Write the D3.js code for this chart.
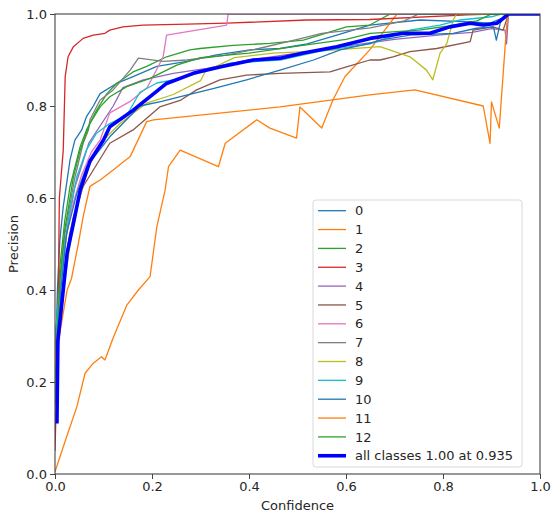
<!DOCTYPE html>
<html>
<head>
<meta charset="utf-8">
<script src="https://cdn.jsdelivr.net/npm/d3@7/dist/d3.min.js"></script>
<style>
  html, body { margin: 0; padding: 0; background: #fff; }
  svg { display: block; }
  text { font-family: "DejaVu Sans", sans-serif; fill: #262626; }
</style>
</head>
<body>
<svg id="chart" width="553" height="517"></svg>
<script>
// ---------- DATA (confidence, precision) ----------
const classNames = ["0","1","2","3","4","5","6","7","8","9","10","11","12"];
const allLabel = "all classes 1.00 at 0.935";
const xTicks = [0.0, 0.2, 0.4, 0.6, 0.8, 1.0];
const yTicks = [0.0, 0.2, 0.4, 0.6, 0.8, 1.0];

const class0 = [[0,0.2],[0.005,0.4],[0.01,0.509],[0.017,0.581],[0.031,0.683],[0.041,0.726],[0.055,0.748],[0.065,0.777],[0.079,0.8],[0.093,0.827],[0.127,0.849],[0.161,0.864],[0.21,0.886],[0.272,0.897],[0.333,0.911],[0.402,0.922],[0.464,0.925],[0.52,0.935],[0.581,0.954],[0.649,0.976],[0.753,0.987],[0.856,0.983],[0.897,0.98],[0.92,0.99],[0.93,1.0],[1,1]];
const class1 = [[0,0.005],[0.024,0.081],[0.045,0.146],[0.062,0.219],[0.079,0.241],[0.096,0.255],[0.103,0.248],[0.12,0.296],[0.148,0.367],[0.172,0.4],[0.196,0.429],[0.21,0.538],[0.227,0.617],[0.234,0.668],[0.258,0.704],[0.337,0.668],[0.351,0.719],[0.416,0.77],[0.443,0.752],[0.498,0.73],[0.505,0.798],[0.55,0.752],[0.573,0.813],[0.598,0.864],[0.649,0.922],[0.705,1.0],[1,1]];
const class2 = [[0,0.25],[0.01,0.45],[0.02,0.55],[0.031,0.625],[0.052,0.712],[0.065,0.748],[0.086,0.791],[0.107,0.827],[0.127,0.849],[0.161,0.874],[0.189,0.886],[0.23,0.907],[0.278,0.922],[0.299,0.925],[0.367,0.932],[0.443,0.936],[0.512,0.943],[0.601,0.972],[0.649,0.976],[0.691,1.0],[1,1]];
const class3 = [[0,0.05],[0.006,0.3],[0.009,0.6],[0.017,0.704],[0.021,0.864],[0.027,0.907],[0.038,0.929],[0.058,0.947],[0.079,0.954],[0.103,0.958],[0.113,0.965],[0.14,0.972],[0.181,0.976],[0.272,0.978],[0.354,0.98],[0.519,0.987],[0.649,0.988],[0.85,0.998],[0.9,1.0],[1,1]];
const class4 = [[0,0.22],[0.01,0.42],[0.02,0.5],[0.04,0.62],[0.07,0.72],[0.12,0.8],[0.14,0.84],[0.182,0.857],[0.244,0.871],[0.313,0.882],[0.4,0.9],[0.5,0.915],[0.6,0.93],[0.7,0.945],[0.8,0.955],[0.86,0.96],[0.9,0.968],[0.928,0.965],[0.931,0.935],[0.935,1.0],[1,1]];
const class5 = [[0,0.15],[0.01,0.35],[0.02,0.45],[0.03,0.52],[0.038,0.559],[0.058,0.625],[0.113,0.719],[0.161,0.748],[0.216,0.798],[0.258,0.812],[0.292,0.835],[0.34,0.857],[0.395,0.867],[0.464,0.871],[0.567,0.874],[0.601,0.885],[0.649,0.9],[0.67,0.9],[0.697,0.907],[0.732,0.918],[0.787,0.925],[0.856,0.94],[0.862,0.965],[0.903,0.972],[0.924,0.965],[0.935,1.0],[1,1]];
const class6 = [[0,0.22],[0.01,0.4],[0.02,0.5],[0.035,0.58],[0.055,0.65],[0.075,0.7],[0.093,0.726],[0.113,0.785],[0.155,0.81],[0.19,0.84],[0.21,0.88],[0.223,0.907],[0.23,0.954],[0.354,0.976],[0.357,1.0],[1,1]];
const class7 = [[0,0.25],[0.01,0.42],[0.02,0.52],[0.04,0.64],[0.058,0.719],[0.069,0.748],[0.072,0.77],[0.093,0.813],[0.12,0.835],[0.155,0.878],[0.172,0.904],[0.223,0.897],[0.272,0.9],[0.35,0.91],[0.42,0.925],[0.5,0.945],[0.55,0.958],[0.65,0.97],[0.72,0.985],[0.75,1.0],[1,1]];
const class8 = [[0,0.2],[0.02,0.42],[0.04,0.56],[0.07,0.67],[0.1,0.726],[0.134,0.762],[0.161,0.784],[0.189,0.806],[0.244,0.825],[0.3,0.855],[0.31,0.875],[0.37,0.905],[0.45,0.915],[0.55,0.92],[0.67,0.929],[0.732,0.907],[0.766,0.878],[0.779,0.857],[0.794,0.915],[0.808,0.936],[0.821,0.987],[0.828,1.0],[1,1]];
const class9 = [[0,0.3],[0.015,0.45],[0.03,0.57],[0.045,0.646],[0.065,0.705],[0.085,0.74],[0.11,0.76],[0.148,0.78],[0.175,0.83],[0.21,0.85],[0.26,0.86],[0.36,0.893],[0.464,0.9],[0.55,0.92],[0.65,0.935],[0.732,0.965],[0.794,0.976],[0.835,0.987],[0.9,0.994],[0.92,1.0],[1,1]];
const class10 = [[0,0.15],[0.012,0.4],[0.024,0.523],[0.045,0.61],[0.065,0.668],[0.113,0.733],[0.175,0.8],[0.22,0.81],[0.265,0.822],[0.326,0.838],[0.395,0.857],[0.464,0.878],[0.533,0.9],[0.588,0.922],[0.649,0.936],[0.67,0.943],[0.732,0.954],[0.821,0.958],[0.869,0.969],[0.904,0.972],[0.91,0.943],[0.918,0.98],[0.93,1.0],[1,1]];
const class11 = [[0,0.25],[0.004,0.27],[0.017,0.35],[0.025,0.4],[0.034,0.425],[0.048,0.5],[0.058,0.559],[0.072,0.625],[0.076,0.628],[0.093,0.639],[0.12,0.661],[0.155,0.69],[0.189,0.766],[0.203,0.77],[0.464,0.798],[0.649,0.824],[0.742,0.835],[0.883,0.8],[0.897,0.719],[0.9,0.809],[0.916,0.752],[0.931,0.972],[0.934,1.0],[1,1]];
const class12 = [[0,0.2],[0.01,0.42],[0.02,0.53],[0.038,0.646],[0.052,0.704],[0.072,0.762],[0.093,0.798],[0.113,0.82],[0.148,0.842],[0.196,0.86],[0.251,0.889],[0.3,0.905],[0.4,0.915],[0.5,0.93],[0.6,0.945],[0.65,0.958],[0.75,0.965],[0.82,0.975],[0.87,0.985],[0.9,1.0],[1,1]];
const allClasses = [[0.004,0.11],[0.006,0.29],[0.017,0.4],[0.025,0.48],[0.038,0.545],[0.052,0.617],[0.072,0.68],[0.1,0.726],[0.113,0.755],[0.16,0.79],[0.23,0.849],[0.285,0.871],[0.34,0.885],[0.409,0.9],[0.464,0.904],[0.512,0.915],[0.581,0.929],[0.65,0.947],[0.718,0.958],[0.773,0.958],[0.814,0.972],[0.856,0.98],[0.883,0.976],[0.911,0.98],[0.925,0.991],[0.935,1.0],[1,1]];

const classCurves = [class0,class1,class2,class3,class4,class5,class6,class7,class8,class9,class10,class11,class12];
const tab10 = ["#1f77b4","#ff7f0e","#2ca02c","#d62728","#9467bd","#8c564b","#e377c2","#7f7f7f","#bcbd22","#17becf"];

// ---------- LAYOUT ----------
const svg = d3.select("#chart");
const L = 55, R = 540, T = 14, B = 474;
const x = d3.scaleLinear().domain([0,1]).range([L,R]);
const y = d3.scaleLinear().domain([0,1]).range([B,T]);

svg.append("defs").append("clipPath").attr("id","plotclip")
  .append("rect").attr("x",L).attr("y",T).attr("width",R-L).attr("height",B-T);

const line = d3.line().x(d=>x(d[0])).y(d=>y(d[1]));
const g = svg.append("g").attr("clip-path","url(#plotclip)");

classCurves.forEach((c,i)=>{
  g.append("path").datum(c).attr("d",line)
    .attr("fill","none").attr("stroke",tab10[i%10])
    .attr("stroke-width",1.3).attr("stroke-linejoin","round");
});
g.append("path").datum(allClasses).attr("d",line)
  .attr("fill","none").attr("stroke","#0000ff")
  .attr("stroke-width",3.6).attr("stroke-linejoin","round");

// ---------- AXES ----------
const xAxis = d3.axisBottom(x).tickValues(xTicks).tickFormat(d3.format(".1f")).tickSizeOuter(0).tickSize(5).tickPadding(3);
const yAxis = d3.axisLeft(y).tickValues(yTicks).tickFormat(d3.format(".1f")).tickSizeOuter(0).tickSize(5).tickPadding(3);

const gx = svg.append("g").attr("transform",`translate(0,${B})`).call(xAxis);
const gy = svg.append("g").attr("transform",`translate(${L},0)`).call(yAxis);
[gx,gy].forEach(a=>{
  a.select(".domain").remove();
  a.selectAll(".tick line").attr("stroke","#444").attr("stroke-width",1);
  a.selectAll(".tick text").attr("font-size",13).attr("fill","#262626")
    .attr("font-family","DejaVu Sans, sans-serif");
});

// frame
svg.append("rect").attr("x",L).attr("y",T).attr("width",R-L).attr("height",B-T)
  .attr("fill","none").attr("stroke","#444").attr("stroke-width",1.1);

// axis titles
svg.append("text").attr("x",(L+R)/2).attr("y",510).attr("text-anchor","middle")
  .attr("font-size",13).text("Confidence");
svg.append("text").attr("transform",`translate(18,${(T+B)/2}) rotate(-90)`)
  .attr("text-anchor","middle").attr("font-size",13).text("Precision");

// ---------- LEGEND ----------
const lg = svg.append("g");
lg.append("rect").attr("x",313).attr("y",200).attr("width",209).attr("height",267)
  .attr("rx",3).attr("fill","#fff").attr("fill-opacity",0.85)
  .attr("stroke","#d9d9d9").attr("stroke-width",1);
const legendItems = classNames.map((n,i)=>({label:n,color:tab10[i%10],w:1.3}))
  .concat([{label:allLabel,color:"#0000ff",w:3.6}]);
const rowH = 18.85, row0 = 210.7;
legendItems.forEach((it,i)=>{
  const cy = row0 + i*rowH;
  lg.append("line").attr("x1",318).attr("x2",346).attr("y1",cy).attr("y2",cy)
    .attr("stroke",it.color).attr("stroke-width",it.w);
  lg.append("text").attr("x",355).attr("y",cy).attr("dy","0.36em")
    .attr("font-size",13).text(it.label);
});
</script>
</body>
</html>
